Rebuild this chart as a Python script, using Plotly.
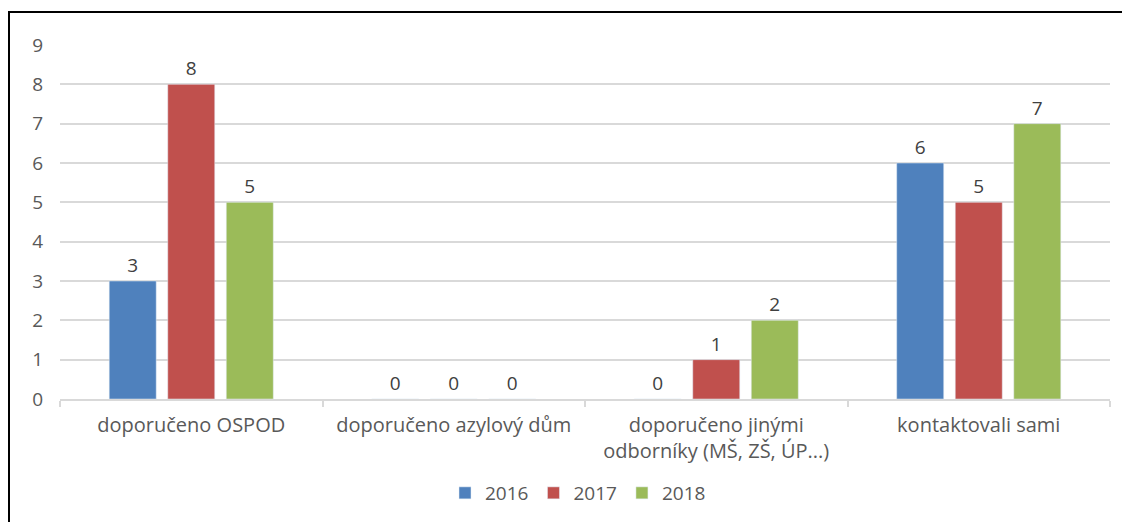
import plotly.graph_objects as go

categories = ["doporučeno OSPOD", "doporučeno azylový dům",
              "doporučeno jinými<br>odborníky (MŠ, ZŠ, ÚP...)", "kontaktovali sami"]
years = ["2016", "2017", "2018"]
v2016 = [3, 0, 0, 6]
v2017 = [8, 0, 1, 5]
v2018 = [5, 0, 2, 7]
colors = ["#4f81bd", "#c0504d", "#9bbb59"]
yticks = list(range(0, 10))

W, H = 1130, 522
OFF = 8  # page body margin
# desired screen positions of plot area
SL, SR, ST, SB = 60, 1110, 45, 399
L, T = SL - OFF, ST - OFF
R = W - (SR - OFF)
B = H - (SB - OFF)
pw, ph = W - L - R, H - T - B

def px2paper_x(x):
    return (x - OFF - L) / pw

def px2paper_y(y):
    return (H - B - (y - OFF)) / ph

FONT = "Open Sans"
FS = 20
fig = go.Figure()
for name, vals, c in zip(years, [v2016, v2017, v2018], colors):
    fig.add_trace(go.Bar(
        x=categories, y=vals, name=name, marker_color=c,
        text=[str(v) for v in vals], textposition="outside",
        textfont=dict(family=FONT, size=FS - 1, color="#404040"),
        cliponaxis=False,
    ))

fig.update_layout(
    width=W, height=H,
    margin=dict(l=L, r=R, t=T, b=B, autoexpand=False),
    paper_bgcolor="white", plot_bgcolor="white",
    barmode="group", bargap=0.331, bargroupgap=0.197,
    font=dict(family=FONT, size=FS, color="#595959"),
    legend=dict(orientation="h", x=px2paper_x(578), xanchor="center",
                y=px2paper_y(493), yanchor="middle",
                font=dict(family=FONT, size=FS - 1, color="#595959"),
                itemwidth=30, traceorder="normal"),
    xaxis=dict(showline=True, linecolor="#d9d9d9", linewidth=1.5,
               ticks="outside", tickson="boundaries", ticklen=6,
               tickcolor="#d9d9d9", tickwidth=1.5, automargin=False,
               ticklabelstandoff=7,
               tickfont=dict(family=FONT, size=FS, color="#595959")),
    yaxis=dict(range=[0, 9], tickvals=yticks, showgrid=True,
               gridcolor="#d9d9d9", gridwidth=1.5, zeroline=False,
               ticklabelstandoff=16, automargin=False,
               tickfont=dict(family=FONT, size=FS - 1, color="#595959")),
    shapes=[
        dict(type="line", xref="paper", yref="paper",
             x0=px2paper_x(8), x1=px2paper_x(1140),
             y0=px2paper_y(12), y1=px2paper_y(12),
             line=dict(color="black", width=2)),
        dict(type="line", xref="paper", yref="paper",
             x0=px2paper_x(9), x1=px2paper_x(9),
             y0=px2paper_y(12), y1=px2paper_y(540),
             line=dict(color="black", width=2)),
    ],
)
fig.write_html("out.html")
